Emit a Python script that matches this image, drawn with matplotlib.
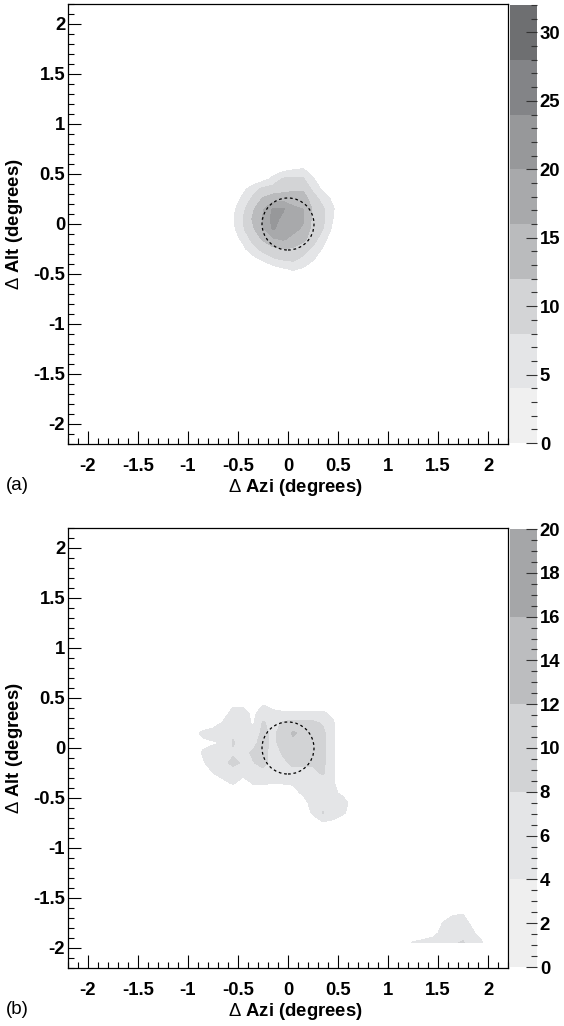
import numpy as np
import matplotlib
matplotlib.use('Agg')
import matplotlib.pyplot as plt
from matplotlib.colors import ListedColormap, Normalize
from matplotlib.cm import ScalarMappable
from matplotlib.patches import Circle
from matplotlib.ticker import MultipleLocator, FuncFormatter

plt.rcParams['font.family'] = ['Liberation Sans', 'DejaVu Sans']
plt.rcParams['axes.unicode_minus'] = False
plt.rcParams['mathtext.fontset'] = 'custom'
plt.rcParams['mathtext.rm'] = 'Liberation Sans'

# histogram bins: 0.1 deg over -2..2, values at bin centres
bin_centres = np.round(np.arange(-1.95, 2.0, 0.1), 2)

# (a) counts around the source, rows listed from top (high Alt) down
a_azi = [-0.55, -0.45, -0.35, -0.25, -0.15, -0.05, 0.05, 0.15, 0.25, 0.35, 0.45]
a_alt = [0.55, 0.45, 0.35, 0.25, 0.15, 0.05, -0.05, -0.15, -0.25, -0.35, -0.45, -0.55]
a_counts = [
    [0, 0, 0, 0, 1.5, 2.5, 3.5, 4.2, 2, 0, 0],
    [0, 0, 1, 2.5, 5, 8.5, 9, 8.5, 4.5, 1, 0],
    [0, 3, 6, 9, 10, 10.5, 11, 11.5, 7, 3, 0.5],
    [1.5, 5, 9, 12.5, 14, 14.5, 15, 14, 10, 6.5, 3],
    [3, 7, 11.5, 15.5, 20.5, 20.5, 16.5, 16, 11.5, 8.5, 4.5],
    [3.5, 8, 12.5, 16.5, 21.5, 19, 17.5, 16.5, 11, 9, 4],
    [3, 7.5, 11.5, 15.5, 20.5, 18, 17, 15.5, 10.5, 8, 3],
    [2, 5, 9.5, 12.5, 15.5, 16.5, 15, 13, 10, 5.5, 1.5],
    [0, 3, 6.5, 9.5, 11, 12, 11.5, 10, 7, 3.5, 0.5],
    [0, 0, 2.5, 5, 7.5, 8.5, 9, 7, 4.5, 1, 0],
    [0, 0, 0, 0, 2, 3.5, 4.5, 3.5, 1.5, 0, 0],
    [0, 0, 0, 0, 0, 0, 1, 0, 0, 0, 0],
]

# (b) counts, main blob
b_azi = [-0.95, -0.85, -0.75, -0.65, -0.55, -0.45, -0.35, -0.25, -0.15,
         -0.05, 0.05, 0.15, 0.25, 0.35, 0.45, 0.55, 0.65]
b_alt = [0.45, 0.35, 0.25, 0.15, 0.05, -0.05, -0.15, -0.25, -0.35,
         -0.45, -0.55, -0.65, -0.75]
b_counts = [
    [0, 0, 0, 0, 3, 3, 1, 3.5, 2, 1.5, 2, 2, 2, 2, 0.5, 0, 0],
    [0, 0, 0.5, 2, 5.5, 5.5, 3, 6, 5, 4.5, 4.5, 4.5, 4.5, 4.5, 3, 0.5, 0],
    [0, 0.5, 2, 4.5, 6, 6, 3.5, 8.5, 6.5, 8.5, 9.5, 9.5, 9, 7.5, 4.5, 1, 0],
    [2.5, 5, 6, 5.5, 7.5, 6.5, 5.5, 9, 7, 10, 12.5, 11, 10, 9, 4.5, 1, 0],
    [2, 3, 3.5, 4.2, 8.3, 6.5, 7, 9.5, 7, 9.5, 11, 10.5, 10, 9.5, 4.5, 1, 0],
    [1.5, 4.5, 6, 6.5, 7.5, 7, 8.5, 9.5, 6, 8.5, 10, 10.5, 10, 9, 4.5, 1, 0],
    [0.5, 3.5, 6, 7, 9, 7.5, 7.8, 9, 6.5, 7, 9, 9, 8.5, 9, 4.5, 1, 0],
    [0, 1.5, 4, 5.5, 6, 5, 5, 7, 6, 6, 6.5, 6.5, 7, 8.5, 4.5, 0.5, 0],
    [0, 0, 1.5, 3, 4.5, 2.5, 4.3, 4.5, 4, 4.2, 4.3, 5, 6, 6, 4.5, 1, 0],
    [0, 0, 0, 0, 1, 0.5, 2, 2, 1.5, 2, 3, 4.5, 5, 5.5, 4.5, 3.5, 1],
    [0, 0, 0, 0, 0, 0, 0, 0, 0, 0, 0.5, 2.5, 5.5, 7, 6.5, 5, 3],
    [0, 0, 0, 0, 0, 0, 0, 0, 0, 0, 0, 2, 4.5, 8.2, 6, 4.5, 2.5],
    [0, 0, 0, 0, 0, 0, 0, 0, 0, 0, 0, 0, 2, 3.5, 3, 1.5, 0],
]

# (b) counts, corner patch at bottom right
c_azi = [1.15, 1.25, 1.35, 1.45, 1.55, 1.65, 1.75, 1.85, 1.95]
c_alt = [-1.65, -1.75, -1.85, -1.95]
c_counts = [
    [0, 0, 0, 1, 2, 3.5, 3.8, 1.5, 0],
    [0, 0, 0, 1, 4.2, 5.5, 5.5, 3, 1],
    [0, 1, 2, 3, 5, 6, 6.5, 4.5, 2],
    [2, 4.5, 5, 5.5, 6, 7.5, 8.5, 5, 4.2],
]

a_levels = [0, 4, 8, 12, 16, 20, 24, 28, 32]
a_colors = ['#f0f0f0', '#e4e5e7', '#d3d4d6', '#babbbd', '#a8a9ab',
            '#97989a', '#838487', '#6e6f71']
b_levels = [0, 4, 8, 12, 16, 20]
b_colors = ['#efefef', '#e4e5e7', '#d2d3d5', '#bcbdbf', '#a5a6a8']

circle_r = 0.26
W, H = 564, 1026


def fill_grid(patches):
    z = np.zeros((len(bin_centres), len(bin_centres)))
    for azi, alt, counts in patches:
        for r, y in enumerate(alt):
            iy = int(np.argmin(np.abs(bin_centres - y)))
            for c, x in enumerate(azi):
                ix = int(np.argmin(np.abs(bin_centres - x)))
                z[iy, ix] = counts[r][c]
    return z


def fmt(v, _):
    return f'{round(v, 2) + 0:g}'


def panel(top_px, z, levels, colors, cb_major, cb_minor, tag):
    ax = fig.add_axes([68 / W, 1 - (top_px + 440) / H, 440 / W, 440 / H])
    cax = fig.add_axes([510 / W, 1 - (top_px + 439) / H, 27 / W, 438 / H])
    cmap = ListedColormap(colors)
    norm = Normalize(vmin=levels[0], vmax=levels[-1])
    ax.contourf(bin_centres, bin_centres, z, levels=levels[1:], cmap=cmap, norm=norm)
    ax.add_patch(Circle((0, 0), circle_r, fill=False, ec='black', lw=0.9,
                        ls=(0, (2.2, 2.2))))
    ax.set_xlim(-2.2, 2.2)
    ax.set_ylim(-2.2, 2.2)
    for a in (ax.xaxis, ax.yaxis):
        a.set_major_locator(MultipleLocator(0.5))
        a.set_minor_locator(MultipleLocator(0.1))
        a.set_major_formatter(FuncFormatter(fmt))
    ax.tick_params(which='both', direction='in', top=False, right=False, width=0.8)
    ax.tick_params(which='major', length=9.5)
    ax.tick_params(which='minor', length=4.5)
    ax.tick_params(axis='x', pad=10)
    ax.tick_params(axis='y', pad=2)
    for lab in ax.get_xticklabels() + ax.get_yticklabels():
        lab.set_fontsize(13.3)
        lab.set_fontweight('bold')
    for s in ax.spines.values():
        s.set_linewidth(0.9)

    sm = ScalarMappable(norm=norm, cmap=cmap)
    cb = fig.colorbar(sm, cax=cax, ticks=np.arange(0, levels[-1] + 0.1, cb_major))
    cb.outline.set_visible(False)
    cax.yaxis.set_minor_locator(MultipleLocator(cb_minor))
    cax.yaxis.set_major_formatter(FuncFormatter(fmt))
    cax.tick_params(which='both', direction='in', right=True, left=False, width=0.8,
                    pad=2, color='#333333')
    cax.tick_params(which='major', length=8)
    cax.tick_params(which='minor', length=4)
    for lab in cax.get_yticklabels():
        lab.set_fontsize(13.3)
        lab.set_fontweight('bold')

    fig.text(295 / W, 1 - (top_px + 483) / H, r'$\Delta$ Azi (degrees)',
             ha='center', va='center', fontsize=13.3, fontweight='bold')
    fig.text(15 / W, 1 - (top_px + 220) / H, r'$\Delta$ Alt (degrees)',
             ha='center', va='center', rotation=90, fontsize=13.3, fontweight='bold')
    fig.text(6 / W, 1 - (top_px + 482) / H, tag, ha='left', va='center', fontsize=13.5)


fig = plt.figure(figsize=(W / 100, H / 100), dpi=100)

z_a = fill_grid([(a_azi, a_alt, a_counts)])
z_b = fill_grid([(b_azi, b_alt, b_counts), (c_azi, c_alt, c_counts)])

panel(4, z_a, a_levels, a_colors, 5, 1, '(a)')
panel(528, z_b, b_levels, b_colors, 2, 0.5, '(b)')

fig.savefig('out.png', dpi=100)
